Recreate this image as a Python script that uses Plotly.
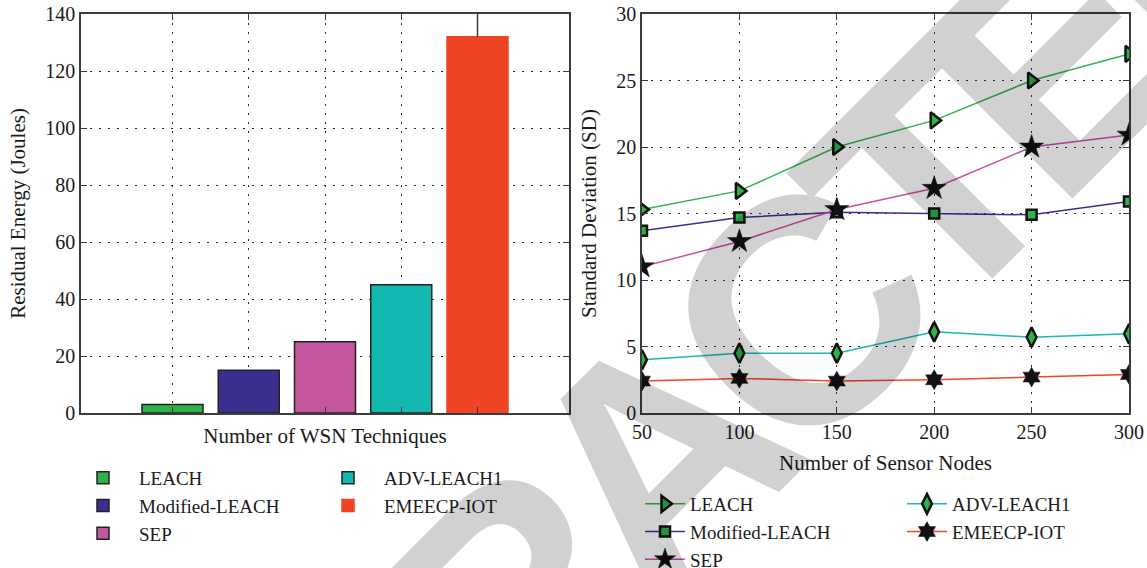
import plotly.graph_objects as go

W, H = 1147, 568
SERIF = "Liberation Serif"

# ---- left panel: residual energy per technique ----
techniques = ["LEACH", "Modified-LEACH", "SEP", "ADV-LEACH1", "EMEECP-IOT"]
residual_energy = [3, 15, 25, 45, 132]
energy_upper_err = [0, 0, 0, 0, 8]
bar_colors = ["#2eb34b", "#3a2f8f", "#c4569e", "#13b8b0", "#ef4426"]
bar_edges = ["#222222", "#222222", "#222222", "#222222", "#ef4426"]

# ---- right panel: standard deviation vs number of nodes ----
sensor_nodes = [50, 100, 150, 200, 250, 300]
sd_leach = [15.3, 16.7, 20.0, 22.0, 25.0, 27.0]
sd_modified = [13.7, 14.7, 15.1, 15.0, 14.9, 15.9]
sd_sep = [11.0, 12.9, 15.3, 16.9, 20.0, 20.9]
sd_adv = [4.0, 4.5, 4.5, 6.1, 5.7, 5.95]
sd_emeecp = [2.4, 2.6, 2.4, 2.5, 2.7, 2.9]
line_colors = ["#33b44a", "#35308f", "#c94fa3", "#1bb8b8", "#f0452b"]
marker_green = "#2eb34b"


def px_x(p):
    return p / W


def px_y(p):
    return 1 - p / H


fig = go.Figure()

bar_legends = ["legend", "legend", "legend", "legend2", "legend2"]
for i, name in enumerate(techniques):
    err = None
    if energy_upper_err[i] > 0:
        err = dict(type="data", symmetric=False, array=[energy_upper_err[i]],
                   arrayminus=[0], width=0, thickness=1.5, color="#3a3a3a")
    fig.add_trace(go.Bar(
        x=[i + 1], y=[residual_energy[i]], name=name, width=0.8,
        marker=dict(color=bar_colors[i], line=dict(color=bar_edges[i], width=1.5)),
        error_y=err, legend=bar_legends[i], xaxis="x", yaxis="y",
    ))

series = [
    ("LEACH", sd_leach, dict(symbol="triangle-right", size=14, color=marker_green,
                             line=dict(color="#111", width=2.5)), "legend3"),
    ("Modified-LEACH", sd_modified, dict(symbol="square", size=10, color=marker_green,
                                         line=dict(color="#111", width=2.5)), "legend3"),
    ("SEP", sd_sep, dict(symbol="star", size=18, color="#111",
                         line=dict(color="#111", width=0.5)), "legend3"),
    ("ADV-LEACH1", sd_adv, dict(symbol="diamond-tall", size=14, color=marker_green,
                                line=dict(color="#111", width=2.5)), "legend4"),
    ("EMEECP-IOT", sd_emeecp, dict(symbol="hexagram", size=15, color="#111",
                                   line=dict(color="#111", width=0.5)), "legend4"),
]
for k, (name, vals, mk, lg) in enumerate(series):
    fig.add_trace(go.Scatter(
        x=sensor_nodes, y=vals, name=name, mode="lines+markers",
        line=dict(color=line_colors[k], width=1.5), marker=mk,
        legend=lg, xaxis="x2", yaxis="y2",
    ))

axis_common = dict(
    showline=True, linecolor="#3c3c3c", linewidth=1.5, mirror="ticks",
    ticks="inside", ticklen=6, tickwidth=1.2, tickcolor="#3c3c3c",
    showgrid=True, gridcolor="#2a2a2a", gridwidth=1, griddash="2px,7px",
    zeroline=False, automargin=False,
    tickfont=dict(family=SERIF, size=20, color="#1a1a1a"),
)
title_font = dict(family=SERIF, size=21, color="#1a1a1a")
legend_font = dict(family=SERIF, size=19, color="#1a1a1a")

ydom = [px_y(413), px_y(14)]

fig.update_layout(
    width=W, height=H, margin=dict(l=0, r=0, t=0, b=0, autoexpand=False),
    paper_bgcolor="white", plot_bgcolor="white",
    barmode="overlay", showlegend=True,
    xaxis=dict(axis_common, domain=[px_x(81), px_x(569)], range=[-0.2, 6.2],
               tickvals=[1, 2, 3, 4, 5], showticklabels=False,
               title=dict(text="Number of WSN Techniques", font=title_font, standoff=15)),
    yaxis=dict(axis_common, domain=ydom, range=[0, 140], dtick=20,
               title=dict(text="Residual Energy (Joules)", font=title_font, standoff=14)),
    xaxis2=dict(axis_common, domain=[px_x(642), px_x(1129)], range=[50, 300], dtick=50,
                anchor="y2",
                title=dict(text="Number of Sensor Nodes", font=title_font, standoff=14)),
    yaxis2=dict(axis_common, domain=ydom, range=[0, 30], dtick=5, anchor="x2",
                title=dict(text="Standard Deviation (SD)", font=title_font, standoff=14)),
    legend=dict(x=px_x(67), y=px_y(459), xanchor="left", yanchor="top",
                font=legend_font, itemwidth=62, bgcolor="rgba(0,0,0,0)", tracegroupgap=0),
    legend2=dict(x=px_x(312), y=px_y(459), xanchor="left", yanchor="top",
                 font=legend_font, itemwidth=62, bgcolor="rgba(0,0,0,0)", tracegroupgap=0),
    legend3=dict(x=px_x(640), y=px_y(485), xanchor="left", yanchor="top",
                 font=legend_font, itemwidth=40, bgcolor="rgba(0,0,0,0)", tracegroupgap=0),
    legend4=dict(x=px_x(902), y=px_y(485), xanchor="left", yanchor="top",
                 font=legend_font, itemwidth=40, bgcolor="rgba(0,0,0,0)", tracegroupgap=0),
    annotations=[dict(
        text='<span style="letter-spacing:-29px">RETRACTED</span>',
        x=px_x(653), y=px_y(461), xref="paper", yref="paper",
        xanchor="center", yanchor="middle", showarrow=False, textangle=-45,
        font=dict(family="Liberation Sans", size=320, color="black", weight="bold"),
        opacity=0.175,
    )],
)

fig.write_html("out.html")
